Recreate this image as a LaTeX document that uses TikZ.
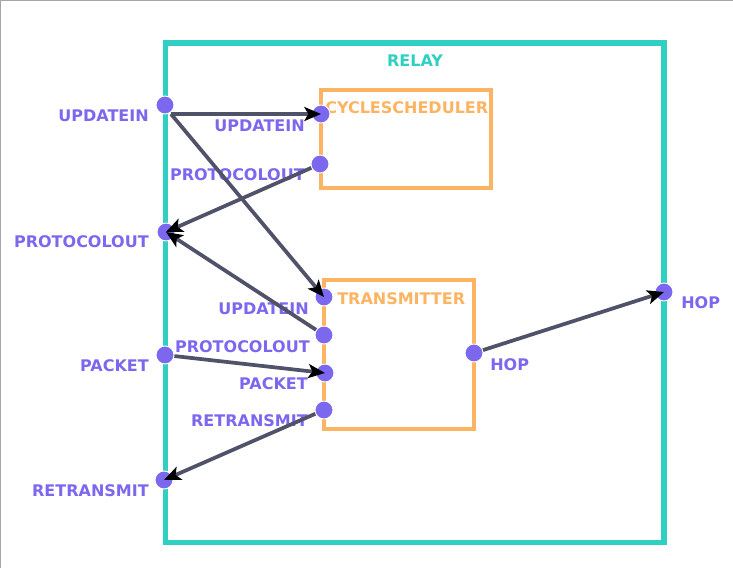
\documentclass[tikz,border=0pt]{standalone}
\usepackage{fontspec}
\setmainfont{DejaVu Sans}
\usetikzlibrary{arrows.meta}
\definecolor{teal}{RGB}{47,208,194}
\definecolor{orng}{RGB}{253,180,98}
\definecolor{purp}{RGB}{123,104,238}
\definecolor{edgec}{RGB}{80,82,106}
\tikzset{
  port/.style={circle,fill=purp,draw=white,line width=0.7pt,minimum size=13.5pt,inner sep=0pt},
  plabel/.style={text=purp,font=\fontsize{12pt}{13pt}\selectfont\bfseries,inner sep=0pt,yshift=-1.2pt},
  title/.style={font=\fontsize{12pt}{13pt}\selectfont\bfseries,inner sep=0pt,yshift=-1pt},
  conn/.style={draw=edgec,line width=2.8pt,-{Stealth[length=12.5pt,width=10.5pt,inset=3pt,black]}},
}
\begin{document}
\begin{tikzpicture}[x=0.75pt,y=-0.75pt]
\useasboundingbox (0,0) rectangle (733,568);
\fill[white] (0,0) rectangle (733,568);
\draw[gray!70,line width=0.9pt] (0.5,568) -- (0.5,0.5) -- (733,0.5);
% boxes
\draw[teal,line width=3.8pt] (165.5,43) rectangle (664,542.5);
\node[title,text=teal] (relayT) at (415,59) {RELAY};
\draw[orng,line width=3pt] (320.5,89.5) rectangle (491,188);
\node[title,text=orng,anchor=west] (csT) at (325,106) {CYCLESCHEDULER};
\draw[orng,line width=3pt] (324,280) rectangle (474,429);
\node[title,text=orng,anchor=west] (txT) at (337,297) {TRANSMITTER};
% relay ports
\node[port] (rU) at (165,105) {};
\node[port] (rP) at (166,232) {};
\node[port] (rK) at (165,355) {};
\node[port] (rR) at (164,480) {};
\node[port] (rH) at (664,292) {};
\node[plabel,anchor=east] (rUl) at (149,114) {UPDATEIN};
\node[plabel,anchor=east] (rPl) at (149,240) {PROTOCOLOUT};
\node[plabel,anchor=east] (rKl) at (149,364) {PACKET};
\node[plabel,anchor=east] (rRl) at (149,489) {RETRANSMIT};
\node[plabel,anchor=west] (rHl) at (681,301) {HOP};
% cyclescheduler ports
\node[port] (cU) at (321,114) {};
\node[port] (cP) at (320,164) {};
\node[plabel,anchor=east] (cUl) at (305,124) {UPDATEIN};
\node[plabel,anchor=east] (cPl) at (305,173) {PROTOCOLOUT};
% transmitter ports
\node[port] (tU) at (324,297) {};
\node[port] (tP) at (324,335) {};
\node[port] (tK) at (325,373) {};
\node[port] (tR) at (324,410) {};
\node[port] (tH) at (474,353) {};
\node[plabel,anchor=east] (tUl) at (309,307) {UPDATEIN};
\node[plabel,anchor=east] (tPl) at (310,345) {PROTOCOLOUT};
\node[plabel,anchor=east] (tKl) at (308,382) {PACKET};
\node[plabel,anchor=east] (tRl) at (308,419) {RETRANSMIT};
\node[plabel,anchor=west] (tHl) at (490,363) {HOP};
% connectors
\coordinate (rUo) at (171,114);
\draw[conn] (rUo) -- (cU.center);
\draw[conn] (rUo) -- (tU.center);
\draw[conn] (cP) -- (rP.center);
\draw[conn] (tP) -- (rP.center);
\draw[conn] (rK) -- (tK.center);
\draw[conn] (tR) -- (rR.center);
\draw[conn] (tH) -- (rH.center);
\end{tikzpicture}
\end{document}
